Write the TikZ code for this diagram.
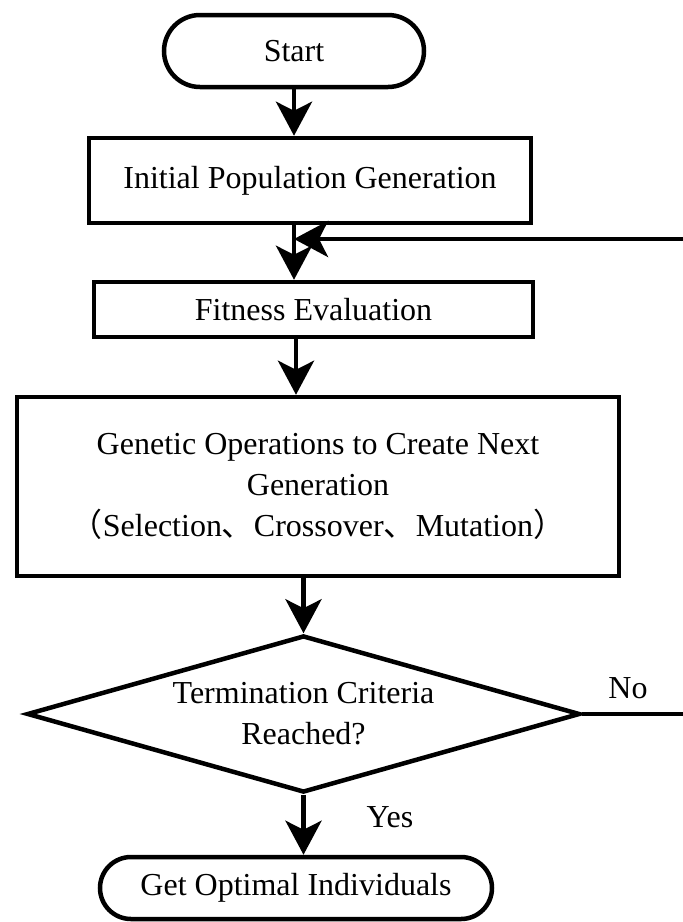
\documentclass[tikz,border=0pt]{standalone}
\usepackage{fontspec}
\setmainfont{Liberation Serif}
\newfontfamily\cjk{Noto Sans CJK SC}
\usetikzlibrary{arrows.meta,shapes.geometric}

\tikzset{
  box/.style={draw, line width=4.5pt, inner sep=0pt, align=center},
  term/.style={box, rounded corners=#1},
  decision/.style={draw, diamond, line width=4.5pt, inner sep=0pt, align=center, aspect=3.5},
  arr/.style={line width=4.5pt, -{Stealth[length=34pt,width=36pt,inset=9pt]}},
}

\begin{document}
\begin{tikzpicture}[x=1pt,y=-1pt,font=\fontsize{32}{41}\selectfont]
    \useasboundingbox (0,0) rectangle (683,922);
    % boxes
    \node[term=36pt, minimum width=260pt, minimum height=72pt] (start) at (294,51) {Start};
    \node[box, minimum width=442pt, minimum height=85pt] (init) at (310,180.5) {Initial Population Generation};
    \node[box, minimum width=439pt, minimum height=55pt] (fit) at (313.5,309.5) {Fitness Evaluation};
    \node[box, minimum width=602pt, minimum height=179pt] (gen) at (318,486.5)
        {Genetic Operations to Create Next\\Generation\\{\cjk （}Selection{\cjk 、}Crossover{\cjk 、}Mutation{\cjk ）}};
    \node[decision, minimum width=553pt, minimum height=157pt] (crit) at (303.5,714) {Termination Criteria\\Reached?};
    \node[term=31pt, minimum width=392pt, minimum height=62pt] (final) at (296,888) {Get Optimal Individuals};
    % labels
    \node (no) at (628,688) {No};
    \node (yes) at (390,817) {Yes};
    \coordinate (join) at (294,239);
    % arrows
    \draw[arr] (start.south) -- (init.north -| start.south);
    \draw[arr] (init.south -| start.south) -- (fit.north -| start.south);
    \draw[arr] (fit.south -| 296,0) -- (gen.north -| 296,0);
    \draw[arr] (gen.south -| crit.north) -- (crit.north);
    \draw[arr] (crit.south) -- (final.north -| crit.south);
    \draw[arr] (crit.east) -- ++(115,0) |- (join);
\end{tikzpicture}
\end{document}
